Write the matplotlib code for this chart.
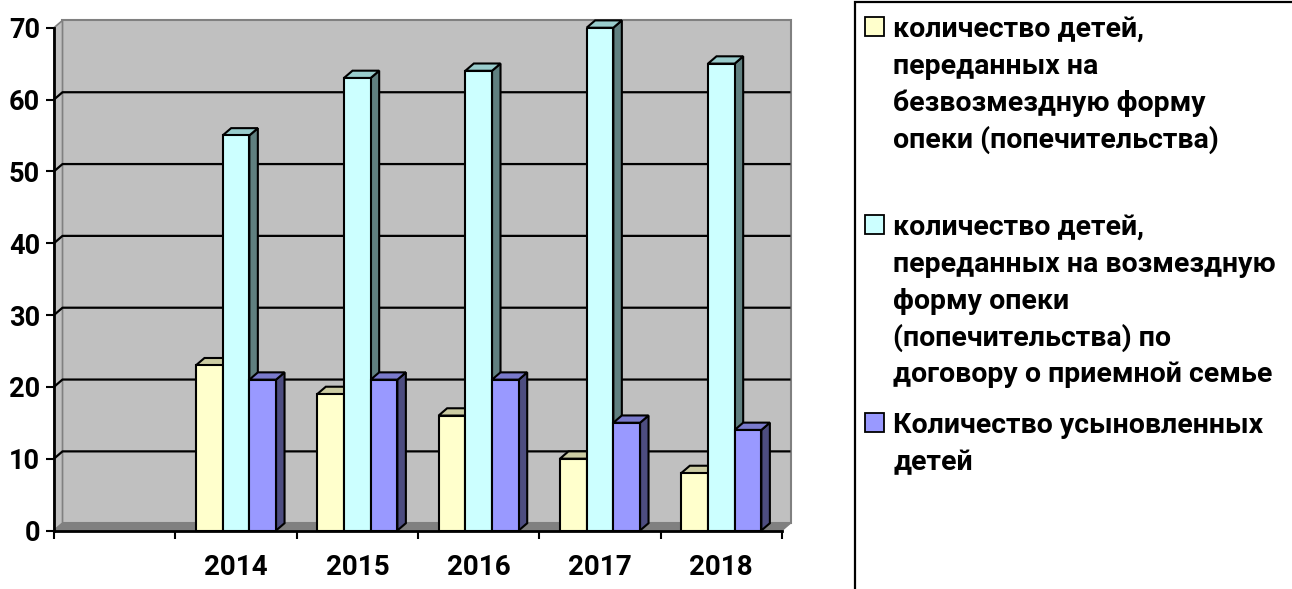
import numpy as np
import matplotlib
matplotlib.use("Agg")
import matplotlib.pyplot as plt
from matplotlib.patches import Polygon, Rectangle
from matplotlib.transforms import IdentityTransform

# ---------------- data ----------------
years = ["2014", "2015", "2016", "2017", "2018"]
free_guardianship = [23, 19, 16, 10, 8]
foster_family = [55, 63, 64, 70, 65]
adopted = [21, 21, 21, 15, 14]
series_labels = [
    "количество детей,\nпереданных на\nбезвозмездную форму\nопеки (попечительства)",
    "количество детей,\nпереданных на возмездную\nформу опеки\n(попечительства) по\nдоговору о приемной семье",
    "Количество усыновленных\nдетей",
]
y_ticks = [0, 10, 20, 30, 40, 50, 60, 70]

# ---------------- style ----------------
front_colors = ["#FFFFCC", "#CCFFFF", "#9999FF"]
top_colors = ["#CCCCA3", "#99CCCC", "#7A7ACC"]
side_colors = ["#808066", "#608080", "#4D4D80"]
FONT = ["Roboto", "DejaVu Sans"]
plt.rcParams["font.family"] = FONT
plt.rcParams["font.weight"] = "bold"

W, H = 1292, 589
DPI = 100
fig = plt.figure(figsize=(W / DPI, H / DPI), dpi=DPI)
fig.patch.set_facecolor("white")

ax_l, ax_r, ax_t, ax_b = 54, 782, 27.7, 530.5
ax = fig.add_axes([ax_l / W, 1 - ax_b / H, (ax_r - ax_l) / W, (ax_b - ax_t) / H])
ax.set_facecolor("none")

slots = [""] + years            # first category slot is empty in the source
n_slots = len(slots)
ax.set_xlim(0, n_slots)
ax.set_ylim(y_ticks[0], y_ticks[-1])

DX, DY = 8.5, 7.3   # 3-D depth offset in pixels

def disp(x, y, back=False):
    px, py = ax.transData.transform((x, y))
    if back:
        px += DX
        py += DY
    return (px, py)

def add_poly(pts, fc, ec, lw, z):
    p = Polygon(pts, closed=True, facecolor=fc, edgecolor=ec, linewidth=lw,
                transform=IdentityTransform(), zorder=z, clip_on=False,
                joinstyle="miter")
    ax.add_artist(p)

x0, x1 = 0, n_slots
y0, y1 = y_ticks[0], y_ticks[-1]
wall_ec = "#808080"
# back wall
add_poly([disp(x0, y0, True), disp(x1, y0, True), disp(x1, y1, True), disp(x0, y1, True)],
         "#C0C0C0", wall_ec, 1.5, 0.5)
# side wall
add_poly([disp(x0, y0), disp(x0, y1), disp(x0, y1, True), disp(x0, y0, True)],
         "#C0C0C0", wall_ec, 1.2, 0.6)
# floor
add_poly([disp(x0, y0), disp(x1, y0), disp(x1, y0, True), disp(x0, y0, True)],
         "#808080", "#808080", 1.0, 0.7)

# gridlines on walls
for v in y_ticks[1:-1]:
    pts = np.array([disp(x0, v), disp(x0, v, True), disp(x1, v, True)])
    ax.plot(pts[:, 0], pts[:, 1], color="black", lw=1.6, transform=IdentityTransform(),
            zorder=0.9, clip_on=False, solid_capstyle="butt")

# ---------------- bars ----------------
series = [free_guardianship, foster_family, adopted]
bar_w = 0.22
centers = np.arange(1, n_slots) + 0.5
offsets = [-bar_w, 0.0, bar_w]
containers = []
for s, vals in enumerate(series):
    c = ax.bar(centers + offsets[s], vals, width=bar_w, color=front_colors[s],
               edgecolor="black", linewidth=1.5)
    containers.append(c)

# add 3-D top and side faces, drawn left to right
items = []
for s, c in enumerate(containers):
    for rect in c.patches:
        items.append((rect.get_x(), s, rect))
items.sort(key=lambda t: t[0])
for i, (_, s, rect) in enumerate(items):
    bx0 = rect.get_x()
    bx1 = bx0 + rect.get_width()
    h = rect.get_height()
    base = 2 + 3 * i
    side = [disp(bx1, 0), disp(bx1, h), disp(bx1, h, True), disp(bx1, 0, True)]
    top = [disp(bx0, h), disp(bx1, h), disp(bx1, h, True), disp(bx0, h, True)]
    add_poly(side, side_colors[s], "black", 1.5, base)
    add_poly(top, top_colors[s], "black", 1.5, base + 1)
    rect.set_zorder(base + 2)

# ---------------- axes ----------------
for sp in ["top", "right"]:
    ax.spines[sp].set_visible(False)
for sp in ["left", "bottom"]:
    ax.spines[sp].set_linewidth(2.0)
    ax.spines[sp].set_zorder(200)
ax.set_yticks(y_ticks)
ax.set_yticklabels([str(v) for v in y_ticks])
ax.tick_params(axis="y", direction="out", length=6, width=1.5, pad=4,
               labelsize=19.5)
ax.set_xticks(np.arange(0, n_slots + 1))
ax.set_xticklabels([])
ax.tick_params(axis="x", which="major", direction="out", length=5.5, width=1.5)
ax.set_xticks(np.arange(n_slots) + 0.5, minor=True)
ax.set_xticklabels(slots, minor=True)
ax.tick_params(axis="x", which="minor", length=0, pad=17, labelsize=20)
for lab in ax.get_xticklabels(minor=True) + ax.get_yticklabels():
    lab.set_fontweight("bold")

# ---------------- legend ----------------
fig.add_artist(Rectangle((855 / W, -0.1), 1.0, 1.1 - 1.5 / H, transform=fig.transFigure,
                         facecolor="none", edgecolor="black", linewidth=1.6, zorder=1))
first_baselines = [37, 235, 433]
pitch = 36.8
for s, lab in enumerate(series_labels):
    b = first_baselines[s]
    fig.add_artist(Rectangle((865 / W, 1 - (b - 1) / H), 19 / W, 19 / H,
                             transform=fig.transFigure, facecolor=front_colors[s],
                             edgecolor="black", linewidth=1.3))
    for k, line in enumerate(lab.split("\n")):
        fig.text(893 / W, 1 - (b + k * pitch) / H, line, fontsize=20.5,
                 fontweight="bold", ha="left", va="baseline")

fig.savefig("out.png", dpi=DPI)
